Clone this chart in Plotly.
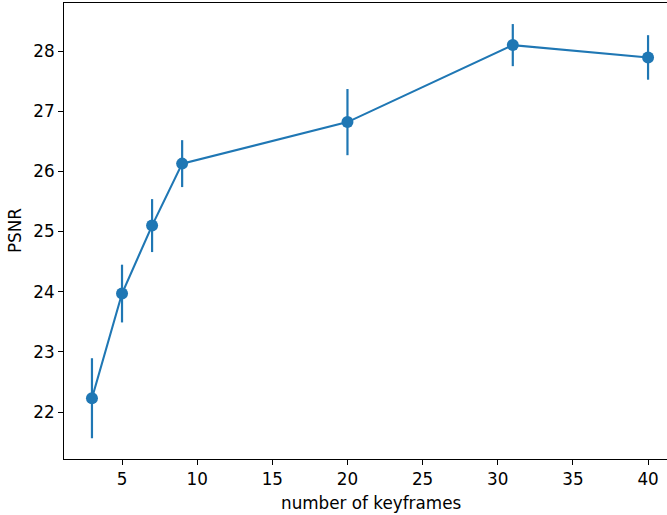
import plotly.graph_objects as go

keyframes = [3, 5, 7, 9, 20, 31, 40]
psnr = [22.23, 23.97, 25.10, 26.13, 26.82, 28.10, 27.895]
psnr_err = [0.665, 0.48, 0.44, 0.39, 0.55, 0.35, 0.37]

x_ticks = [5, 10, 15, 20, 25, 30, 35, 40]
y_ticks = [22, 23, 24, 25, 26, 27, 28]

color = "#1f77b4"
font = "DejaVu Sans, Arial, sans-serif"
fsize = 16.8

fig = go.Figure()
fig.add_trace(go.Scatter(
    x=keyframes, y=psnr, mode="lines+markers",
    line=dict(color=color, width=2.1),
    marker=dict(color=color, size=12),
    error_y=dict(type="data", array=psnr_err, visible=True,
                 width=0, thickness=2.2, color=color),
    showlegend=False,
))

axis_common = dict(
    showgrid=False, zeroline=False, showline=True, linecolor="black",
    linewidth=1.1, ticks="outside", ticklen=5, tickwidth=1.1,
    tickcolor="black", tickfont=dict(family=font, size=fsize, color="black"),
)

fig.update_xaxes(range=[1.14, 41.26], tickvals=x_ticks, mirror=True, **axis_common)
fig.update_yaxes(range=[21.22, 28.80], tickvals=y_ticks, mirror=False, **axis_common)

fig.add_annotation(text="number of keyframes", xref="paper", yref="paper",
                   x=(370.5 - 64) / 603, y=-44 / 456, xanchor="center", yanchor="middle",
                   showarrow=False, font=dict(family=font, size=fsize, color="black"))
fig.add_annotation(text="PSNR", xref="paper", yref="paper",
                   x=-49 / 603, y=0.5, xanchor="center", yanchor="middle",
                   textangle=-90, showarrow=False,
                   font=dict(family=font, size=fsize, color="black"))

fig.update_layout(
    width=667, height=515,
    margin=dict(l=64, r=0, t=3, b=56),
    paper_bgcolor="white", plot_bgcolor="white",
)

fig.write_html(
    "out.html",
    config={"displayModeBar": False},
    post_script="document.body.style.margin='0';document.body.style.padding='0';"
                "document.documentElement.style.overflow='hidden';",
)
